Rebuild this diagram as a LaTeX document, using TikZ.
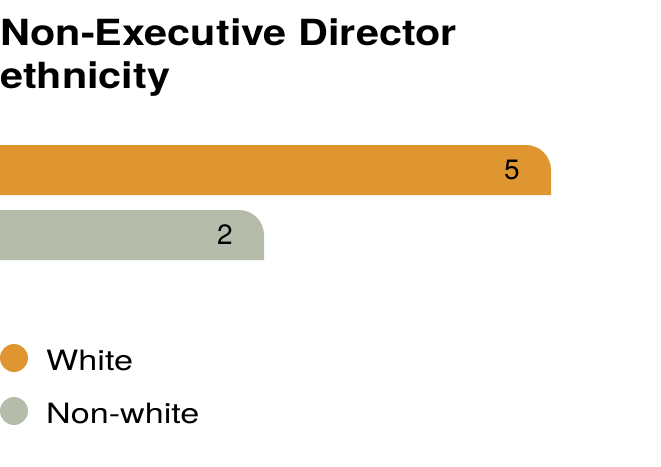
\documentclass[tikz,border=0pt]{standalone}
\usepackage{fontspec}
\usepackage{graphicx}
\setmainfont{TeX Gyre Heros}
\definecolor{orng}{HTML}{DF9530}
\definecolor{gry}{HTML}{B5BCAA}
\begin{document}
\begin{tikzpicture}[x=1pt,y=-1pt,
  lbl/.style={inner sep=0pt,font=\fontsize{28}{30}\selectfont},
  ttl/.style={inner sep=0pt,anchor=base west,font=\bfseries\fontsize{36}{40}\selectfont}]
\useasboundingbox (0,0) rectangle (661,466);
\node[ttl] (t1) at (0,45) {\scalebox{1.15}[1]{Non-Executive Director}};
\node[ttl] (t2) at (0,88) {\scalebox{1.15}[1]{ethnicity}};
\fill[orng] (0,145) -- (526,145) arc[start angle=-90,end angle=0,radius=25] -- (551,195) -- (0,195) -- cycle;
\fill[gry] (0,210) -- (239,210) arc[start angle=-90,end angle=0,radius=25] -- (264,260) -- (0,260) -- cycle;
\node[lbl] (v5) at (512,170) {5};
\node[lbl] (v2) at (225,235) {2};
\fill[orng] (14,358) circle[radius=14];
\fill[gry] (14,411) circle[radius=14];
\node[lbl,anchor=west] (lw) at (46,360) {\scalebox{1.22}[1]{White}};
\node[lbl,anchor=west] (ln) at (46,413) {\scalebox{1.22}[1]{Non-white}};
\end{tikzpicture}
\end{document}
